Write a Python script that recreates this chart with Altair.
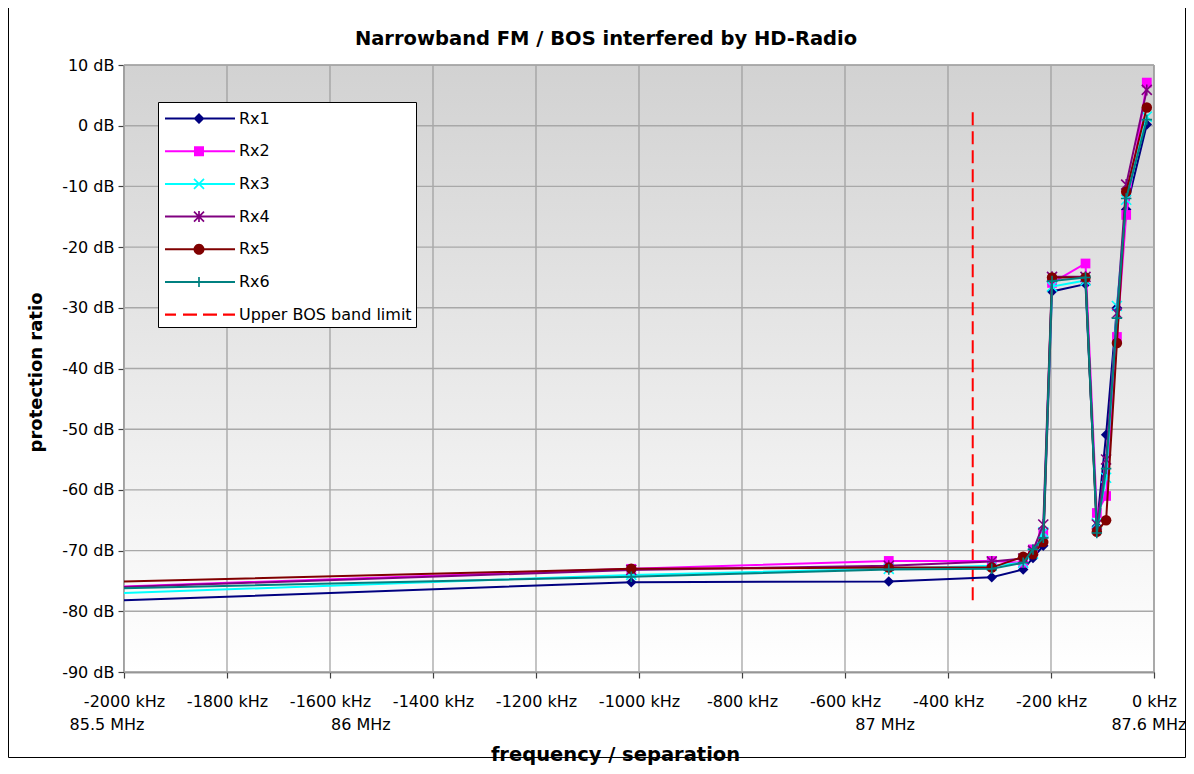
import math
import altair as alt
import pandas as pd

# ---------------- data ----------------
freq = [-2000, -1015, -515, -315, -254, -235, -215, -198, -133, -111, -93, -72, -54, -14]
rx1 = [-78.2, -75.2, -75.1, -74.4, -73.1, -71.2, -69.2, -27.3, -26.1, -66.0, -50.9, -30.0, -13.8, 0.2]
rx2 = [-75.9, -73.0, -71.7, -71.7, -72.0, -69.8, -67.2, -25.9, -22.7, -63.8, -61.0, -34.8, -14.7, 7.1]
rx3 = [-77.0, -74.0, -73.0, -72.5, -72.0, -70.5, -67.0, -26.5, -25.5, -65.5, -58.0, -29.7, -12.2, 1.5]
rx4 = [-76.0, -73.2, -72.5, -71.8, -71.3, -70.0, -65.7, -24.9, -24.9, -65.7, -55.0, -30.9, -9.7, 5.9]
rx5 = [-75.1, -73.0, -72.8, -72.8, -71.0, -70.6, -68.6, -25.0, -25.0, -66.9, -65.0, -35.8, -10.9, 3.0]
rx6 = [-76.2, -74.3, -73.1, -73.0, -72.0, -69.8, -67.9, -25.6, -25.0, -67.1, -56.5, -31.7, -12.0, 1.0]

series_names = ["Rx1", "Rx2", "Rx3", "Rx4", "Rx5", "Rx6"]
series_values = [rx1, rx2, rx3, rx4, rx5, rx6]
series_colors = ["#000080", "#FF00FF", "#00FFFF", "#800080", "#800000", "#008080"]

bos_label = "Upper BOS band limit"
bos_freq = [-352]
bos_top = [2.2]
bos_bottom = [-78.4]

x_ticks = list(range(-2000, 1, 200))
y_ticks = list(range(-90, 11, 10))

mhz_freq = [-2033, -1540, -522, -10]
mhz_text = ["85.5 MHz", "86 MHz", "87 MHz", "87.6 MHz"]

title_text = "Narrowband FM / BOS interfered by HD-Radio"
x_title = "frequency / separation"
y_title = "protection ratio"

FONT = "DejaVu Sans"

# ---------------- marker shapes ----------------
X_PATH = "M-1,-1L1,1M1,-1L-1,1"
AST_PATH = "M-1,-1L1,1M1,-1L-1,1M0,-1.1L0,1.1"
PLUS_PATH = "M-1,0L1,0M0,-1L0,1"
marker_styles = [
    dict(shape="diamond", filled=True, size=110),
    dict(shape="square", filled=True, size=95),
    dict(shape=X_PATH, filled=False, size=100, strokeWidth=1.6),
    dict(shape=AST_PATH, filled=False, size=100, strokeWidth=1.6),
    dict(shape="circle", filled=True, size=110),
    dict(shape=PLUS_PATH, filled=False, size=110, strokeWidth=1.6),
]

# ---------------- legend symbol paths (line + marker) ----------------
SYM = 25.0
U = SYM / 2.0


def poly(pts):
    area = sum(x1 * y2 - x2 * y1 for (x1, y1), (x2, y2) in zip(pts, pts[1:] + pts[:1]))
    if area < 0:
        pts = pts[::-1]
    return "M" + "L".join(f"{x / U:.3f},{y / U:.3f}" for x, y in pts) + "Z"


def rect(x0, y0, x1, y1):
    return poly([(x0, y0), (x1, y0), (x1, y1), (x0, y1)])


def seg(x0, y0, x1, y1, w):
    dx, dy = x1 - x0, y1 - y0
    L = math.hypot(dx, dy)
    nx, ny = -dy / L * w / 2, dx / L * w / 2
    return poly([(x0 + nx, y0 + ny), (x1 + nx, y1 + ny), (x1 - nx, y1 - ny), (x0 - nx, y0 - ny)])


LX0, LX1, MX = -9.5, 60.5, 24.5
line_part = rect(LX0, -1.0, LX1, 1.0)
circle_pts = [(MX + 5.5 * math.cos(2 * math.pi * k / 28), 5.5 * math.sin(2 * math.pi * k / 28)) for k in range(28)]
legend_paths = [
    line_part + poly([(MX, -5.5), (MX + 5.5, 0), (MX, 5.5), (MX - 5.5, 0)]),
    line_part + rect(MX - 5, -5, MX + 5, 5),
    line_part + seg(MX - 5, -5, MX + 5, 5, 1.7) + seg(MX - 5, 5, MX + 5, -5, 1.7),
    line_part + seg(MX - 5, -5, MX + 5, 5, 1.7) + seg(MX - 5, 5, MX + 5, -5, 1.7) + seg(MX, -5.5, MX, 5.5, 1.7),
    line_part + poly(circle_pts),
    line_part + seg(MX, -5, MX, 5, 1.7) + seg(MX - 5, 0, MX + 5, 0, 1.7),
    rect(-9.5, -1.1, 1.5, 1.1) + rect(8.5, -1.1, 22.5, 1.1) + rect(28.5, -1.1, 42.5, 1.1) + rect(48.5, -1.1, 60.5, 1.1),
]

# ---------------- scales ----------------
xscale = alt.Scale(domain=[-2000, 0], nice=False, zero=False)
yscale = alt.Scale(domain=[-90, 10], nice=False, zero=False)

# ---------------- layers ----------------
bg = alt.Chart(pd.DataFrame({"a": [0]})).mark_rect(
    fill=alt.LinearGradient(
        gradient="linear",
        stops=[alt.GradientStop(color="#d2d2d2", offset=0), alt.GradientStop(color="#ffffff", offset=1)],
        x1=0, x2=0, y1=0, y2=1,
    ),
    stroke="#808080",
    strokeWidth=1,
).encode(x=alt.value(0), x2=alt.value("width"), y=alt.value(0), y2=alt.value("height"))

vgrid = alt.Chart(pd.DataFrame({"f": x_ticks})).mark_rule(color="#9c9c9c", strokeWidth=1.2).encode(
    x=alt.X("f:Q", scale=xscale)
)
hgrid = alt.Chart(pd.DataFrame({"v": y_ticks})).mark_rule(color="#a8a8a8", strokeWidth=1.4).encode(
    y=alt.Y("v:Q", scale=yscale)
)

bos = alt.Chart(pd.DataFrame({"f": bos_freq, "top": bos_top, "bottom": bos_bottom})).mark_rule(
    color="#FF0000", strokeWidth=2, strokeDash=[13, 6]
).encode(x=alt.X("f:Q", scale=xscale), y=alt.Y("top:Q", scale=yscale), y2="bottom:Q")

series_layers = []
for name, vals, col, ms in zip(series_names, series_values, series_colors, marker_styles):
    d = pd.DataFrame({"f": freq, "v": vals, "series": name})
    base = alt.Chart(d)
    ln = base.mark_line(color=col, strokeWidth=2).encode(
        x=alt.X("f:Q", scale=xscale), y=alt.Y("v:Q", scale=yscale), order="f:Q"
    )
    pt = base.transform_filter("datum.f > -2000").mark_point(color=col, opacity=1, **ms).encode(
        x=alt.X("f:Q", scale=xscale), y=alt.Y("v:Q", scale=yscale)
    )
    series_layers += [ln, pt]

mhz = alt.Chart(pd.DataFrame({"f": mhz_freq, "t": mhz_text})).mark_text(
    font=FONT, fontSize=16, color="#000000", baseline="middle", align="center"
).encode(x=alt.X("f:Q", scale=xscale), y=alt.value(660), text="t:N")

legend_domain = series_names + [bos_label]
legend_layer = alt.Chart(pd.DataFrame({"series": legend_domain})).transform_filter(
    "datum.series == 'none'"
).mark_point(filled=True, size=SYM * SYM, opacity=1).encode(
    color=alt.Color(
        "series:N",
        scale=alt.Scale(domain=legend_domain, range=series_colors + ["#FF0000"]),
        legend=alt.Legend(title=None),
    ),
    shape=alt.Shape(
        "series:N",
        scale=alt.Scale(domain=legend_domain, range=legend_paths),
        legend=alt.Legend(title=None),
    ),
)

border = alt.Chart(pd.DataFrame({"a": [0]})).mark_rect(
    filled=False, stroke="#000000", strokeWidth=1
).encode(x=alt.value(-115.5), x2=alt.value(1061.5), y=alt.value(-57.5), y2=alt.value(692.5))

axes_layer = alt.Chart(pd.DataFrame({"f": [-2000], "v": [-90]})).mark_point(opacity=0).encode(
    x=alt.X(
        "f:Q",
        scale=xscale,
        axis=alt.Axis(
            values=x_ticks,
            labelExpr="datum.value + ' kHz'",
            title=x_title,
            titleX=491,
            titleY=82,
            titleAlign="center",
            titleBaseline="middle",
            titleFontSize=19.5,
        ),
    ),
    y=alt.Y(
        "v:Q",
        scale=yscale,
        axis=alt.Axis(
            values=y_ticks,
            labelExpr="datum.value + ' dB'",
            title=y_title,
            titleX=-88,
            titleY=307,
            titleAngle=-90,
            titleAlign="center",
            titleBaseline="middle",
        ),
    ),
)

chart = alt.layer(bg, vgrid, hgrid, bos, *series_layers, mhz, legend_layer, border, axes_layer).properties(
    width=1030,
    height=607,
    autosize=alt.AutoSizeParams(type="none"),
    padding={"left": 116, "top": 57, "right": 32, "bottom": 94},
    title=alt.TitleParams(
        text=title_text,
        font=FONT,
        fontSize=19.5,
        fontWeight="bold",
        color="#000000",
        anchor="middle",
        dx=-33,
        offset=-57,
        baseline="alphabetic",
    ),
).configure_view(stroke=None).configure_axis(
    grid=False,
    zindex=1,
    domainColor="#404040",
    domainWidth=1.5,
    tickColor="#404040",
    tickSize=6,
    tickWidth=1.2,
    labelFont=FONT,
    labelFontSize=16,
    labelColor="#000000",
    titleFont=FONT,
    titleFontSize=18,
    titleFontWeight="bold",
    titleColor="#000000",
    labelOverlap=False,
    labelFlush=False,
    labelBound=False,
).configure_axisX(labelPadding=15).configure_axisY(labelPadding=4).configure_legend(
    orient="none",
    legendX=34,
    legendY=37,
    fillColor="#ffffff",
    strokeColor="#000000",
    strokeWidth=1,
    padding=4,
    rowPadding=11.7,
    symbolSize=SYM * SYM,
    symbolStrokeWidth=0,
    labelOffset=52,
    labelFont=FONT,
    labelFontSize=16,
    labelColor="#000000",
    labelLimit=400,
)

chart.save("out.html", embed_options={"renderer": "svg", "actions": False})
